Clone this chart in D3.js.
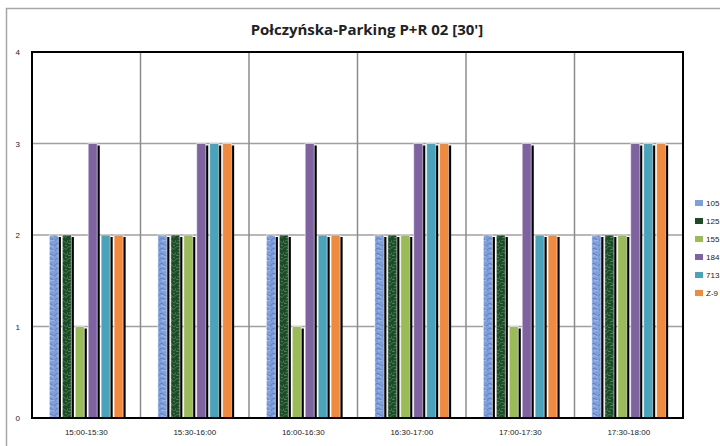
<!DOCTYPE html>
<html>
<head>
<meta charset="utf-8">
<script src="https://cdn.jsdelivr.net/npm/d3@7"></script>
<style>
  body { margin: 0; background: #fff; }
  svg { display: block; font-family: "Liberation Sans", "DejaVu Sans", sans-serif; }
</style>
</head>
<body>
<svg width="720" height="446"></svg>
<script>
// dane
var categories = ["15:00-15:30", "15:30-16:00", "16:00-16:30", "16:30-17:00", "17:00-17:30", "17:30-18:00"];
var series = ["105", "125", "155", "184", "713", "Z-9"];
var s105 = [2, 2, 2, 2, 2, 2];
var s125 = [2, 2, 2, 2, 2, 2];
var s155 = [1, 2, 1, 2, 1, 2];
var s184 = [3, 3, 3, 3, 3, 3];
var s713 = [2, 3, 2, 3, 2, 3];
var sZ9  = [2, 3, 2, 3, 2, 3];
var yTicks = [0, 1, 2, 3, 4];
var title = "Połczyńska-Parking P+R 02 [30']";

var values = [s105, s125, s155, s184, s713, sZ9];
var fills = ["url(#tex-blue)", "url(#tex-green)", "#9bbb59", "#7f62a0", "#4aa3bb", "#f08a3e"];
var legendFills = ["#7d9fdc", "#1e4a26", "#9bbb59", "#7f62a0", "#4aa3bb", "#f08a3e"];

var svg = d3.select("svg"),
    margin = {top: 52, left: 32},
    width = 651,
    height = 366;

// ramka wykresu
svg.append("rect")
  .attr("x", 6.5).attr("y", 8.5)
  .attr("width", 800).attr("height", 500)
  .attr("fill", "none")
  .attr("stroke", "#a6a6a6")
  .attr("stroke-width", 1.5);

// tekstury dla dwoch pierwszych serii
var defs = svg.append("defs");
var pb = defs.append("pattern").attr("id", "tex-blue")
  .attr("patternUnits", "userSpaceOnUse").attr("width", 8).attr("height", 10);
pb.append("rect").attr("width", 8).attr("height", 10).attr("fill", "#7e9fdb");
pb.append("path").attr("d", "M0,2 Q2,0 4,3 T8,2 M0,7 Q3,5 5,8 T8,7")
  .attr("stroke", "#5f7fc4").attr("stroke-width", 1).attr("fill", "none");
pb.append("path").attr("d", "M1,4 Q3,3 6,5 M2,9 Q5,8 7,9")
  .attr("stroke", "#afc4ec").attr("stroke-width", 0.8).attr("fill", "none");

var pg = defs.append("pattern").attr("id", "tex-green")
  .attr("patternUnits", "userSpaceOnUse").attr("width", 9).attr("height", 12);
pg.append("rect").attr("width", 9).attr("height", 12).attr("fill", "#1d4a27");
pg.append("path").attr("d", "M0,3 Q3,1 5,4 T9,3 M1,9 Q4,7 6,10 T9,8")
  .attr("stroke", "#3f7a4a").attr("stroke-width", 1).attr("fill", "none");
pg.append("path").attr("d", "M2,6 L5,5 M6,1 L8,2 M0,11 L3,12")
  .attr("stroke", "#5e9a66").attr("stroke-width", 0.8).attr("fill", "none");

var x0 = d3.scaleBand().domain(categories).range([0, width])
    .paddingInner(0.32).paddingOuter(0.16);
var x1 = d3.scaleBand().domain(series).range([0, x0.bandwidth()]).paddingInner(0.3);
var y = d3.scaleLinear().domain([0, 4]).range([height, 0]);
var step = width / categories.length;

var g = svg.append("g")
    .attr("transform", "translate(" + margin.left + "," + margin.top + ")");

// linie siatki
g.selectAll(".hgrid")
  .data(yTicks.slice(1, 4))
  .enter().append("line")
    .attr("x1", 0).attr("x2", width)
    .attr("y1", function(d) { return y(d); })
    .attr("y2", function(d) { return y(d); })
    .attr("stroke", "#a0a0a0").attr("stroke-width", 1.5);

g.selectAll(".vgrid")
  .data(d3.range(1, categories.length))
  .enter().append("line")
    .attr("x1", function(i) { return i * step; })
    .attr("x2", function(i) { return i * step; })
    .attr("y1", 0).attr("y2", height)
    .attr("stroke", "#8c8c8c").attr("stroke-width", 1.5);

var rows = [];
categories.forEach(function(c, ci) {
  series.forEach(function(s, si) {
    rows.push({cat: c, ser: s, si: si, value: values[si][ci]});
  });
});

// cien
g.selectAll(".shadow")
  .data(rows)
  .enter().append("rect")
    .attr("x", function(d) { return x0(d.cat) + x1(d.ser) + 2.5; })
    .attr("y", function(d) { return y(d.value) + 2; })
    .attr("width", x1.bandwidth())
    .attr("height", function(d) { return height - y(d.value) - 2; })
    .attr("fill", "#000");

g.selectAll(".bar")
  .data(rows)
  .enter().append("rect")
    .attr("class", "bar")
    .attr("x", function(d) { return x0(d.cat) + x1(d.ser); })
    .attr("y", function(d) { return y(d.value); })
    .attr("width", x1.bandwidth())
    .attr("height", function(d) { return height - y(d.value); })
    .attr("fill", function(d) { return fills[d.si]; })
    .attr("stroke", "#ffffff").attr("stroke-opacity", 0.55).attr("stroke-width", 1);

// ramka obszaru
g.append("rect")
  .attr("width", width).attr("height", height)
  .attr("fill", "none").attr("stroke", "#000").attr("stroke-width", 2);

// osie
var yAxis = g.append("g")
  .call(d3.axisLeft(y).tickValues(yTicks).tickSize(0).tickPadding(12).tickFormat(d3.format("d")));
yAxis.select(".domain").remove();
yAxis.selectAll("text").attr("font-size", 8).attr("fill", "#222").attr("font-family", "Liberation Sans, sans-serif");

var xAxis = g.append("g")
  .attr("transform", "translate(0," + height + ")")
  .call(d3.axisBottom(x0).tickSize(0).tickPadding(11));
xAxis.select(".domain").remove();
xAxis.selectAll("text").attr("font-size", 8).attr("fill", "#222").attr("font-family", "Liberation Sans, sans-serif");

svg.append("text")
  .attr("x", 367).attr("y", 35)
  .attr("text-anchor", "middle")
  .attr("font-family", "Open Sans, sans-serif")
  .attr("font-weight", "bold")
  .attr("font-size", 15)
  .attr("fill", "#222")
  .text(title);

// legenda
var leg = svg.append("g").attr("transform", "translate(695,200)");
var li = leg.selectAll(".li").data(series).enter().append("g")
  .attr("transform", function(d, i) { return "translate(0," + i * 18 + ")"; });
li.append("rect").attr("width", 8).attr("height", 6)
  .attr("fill", function(d, i) { return legendFills[i]; });
li.append("text").attr("x", 11).attr("y", 6)
  .attr("font-size", 8).attr("fill", "#222")
  .text(function(d) { return d; });
</script>
</body>
</html>
